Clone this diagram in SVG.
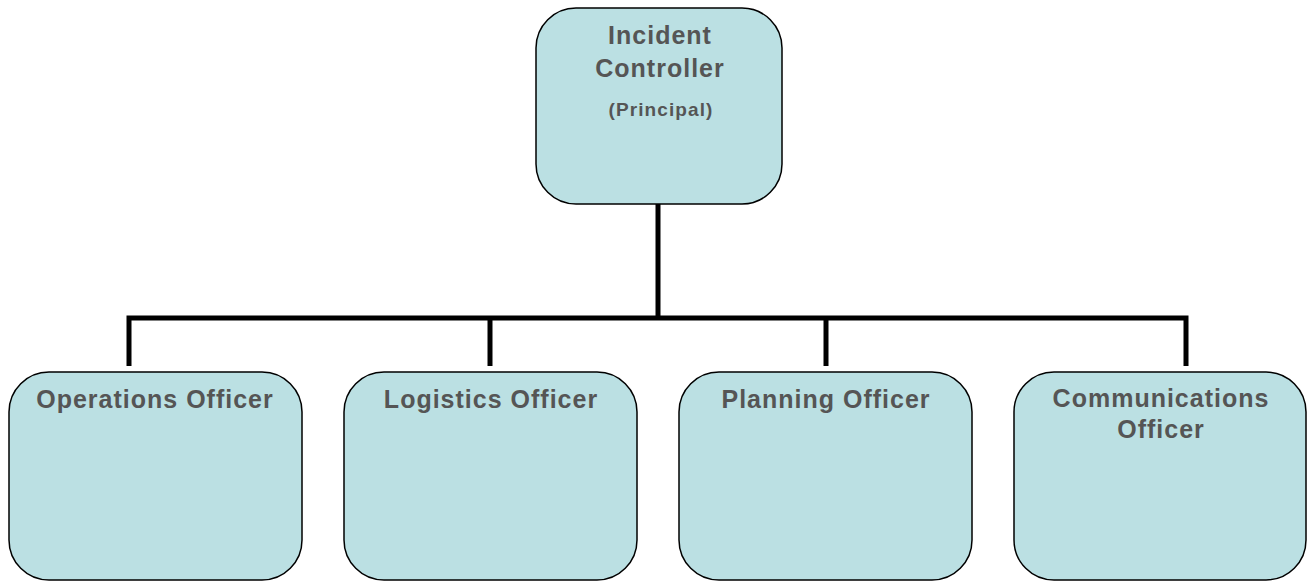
<svg xmlns="http://www.w3.org/2000/svg" width="1313" height="583" viewBox="0 0 1313 583">
<style>
.box{fill:#BBE0E3;stroke:#000;stroke-width:1.5}
.t{font-family:"Liberation Sans",Arial,sans-serif;font-weight:bold;font-size:25px;letter-spacing:1px;fill:#555555;text-anchor:middle}
.s{font-size:19px;letter-spacing:1.1px}
.c{stroke:#000;stroke-width:5;fill:none}
</style>
<rect width="1313" height="583" fill="#fff"/>
<g id="connectors">
<line class="c" x1="658" y1="204" x2="658" y2="318"/>
<polyline class="c" points="129,366 129,318 1186,318 1186,366"/>
<line class="c" x1="490" y1="318" x2="490" y2="366"/>
<line class="c" x1="826" y1="318" x2="826" y2="366"/>
</g>
<g id="incident-controller">
<rect class="box" x="536" y="8" width="246" height="196" rx="40"/>
<text class="t" x="660" y="44">Incident</text>
<text class="t" x="660" y="77">Controller</text>
<text class="t s" x="661" y="116">(Principal)</text>
</g>
<g id="operations-officer">
<rect class="box" x="9" y="372" width="293" height="208" rx="40"/>
<text class="t" x="155" y="408">Operations Officer</text>
</g>
<g id="logistics-officer">
<rect class="box" x="344" y="372" width="293" height="208" rx="40"/>
<text class="t" x="491" y="408">Logistics Officer</text>
</g>
<g id="planning-officer">
<rect class="box" x="679" y="372" width="293" height="208" rx="40"/>
<text class="t" x="826" y="408">Planning Officer</text>
</g>
<g id="communications-officer">
<rect class="box" x="1014" y="372" width="292" height="208" rx="40"/>
<text class="t" x="1161" y="407">Communications</text>
<text class="t" x="1161" y="438">Officer</text>
</g>
</svg>
